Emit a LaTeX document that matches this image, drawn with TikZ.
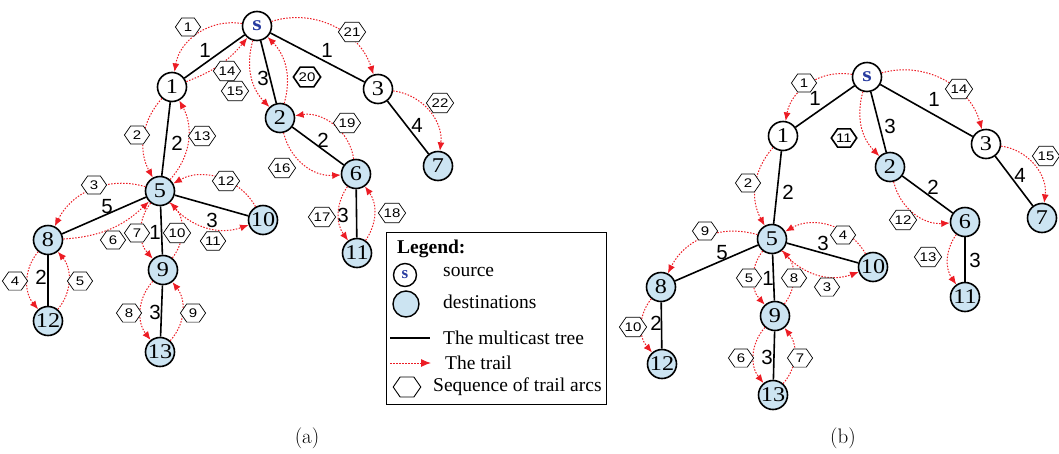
\documentclass[tikz,border=0pt]{standalone}
\usepackage{fontspec}
\usetikzlibrary{arrows.meta,shapes.geometric}
\newfontfamily\tnr{Liberation Serif}
\newfontfamily\tnrw[FakeStretch=1.15]{Liberation Serif}
\newfontfamily\arl{Liberation Sans}
\definecolor{destc}{RGB}{204,228,242}
\definecolor{trailc}{RGB}{236,28,36}
\definecolor{sblue}{RGB}{40,60,160}
\begin{document}
\begin{tikzpicture}[x=1pt,y=-1pt,
  vtx/.style={circle,draw=black,line width=1.6pt,minimum size=29pt,inner sep=0pt,fill=white,font=\tnrw\fontsize{21}{21}\selectfont},
  dst/.style={vtx,fill=destc},
  src/.style={vtx,font=\tnrw\bfseries\fontsize{21}{21}\selectfont,text=sblue},
  tree/.style={line width=1.6pt,black},
  wt/.style={font=\arl\fontsize{20.5}{20.5}\selectfont,inner sep=0pt},
  arc/.style={trailc,line width=1pt,dash pattern=on 1.5pt off 1.5pt,-{Latex[length=8.5pt,width=7pt]}},
  hex/.style={regular polygon,regular polygon sides=6,draw=black,fill=white,line width=0.7pt,minimum size=21pt,inner sep=0pt,xscale=1.2,font=\arl\fontsize{12.5}{12.5}\selectfont},
  bhex/.style={hex,line width=1.6pt},
  lgt/.style={anchor=west,inner sep=0pt,font=\tnr\fontsize{19.5}{19.5}\selectfont},
  captxt/.style={inner sep=0pt,font=\fontsize{21}{21}\selectfont},
]
\useasboundingbox (0,0) rectangle (1059,453);

% ================= (a) =================
\node[src] (as) at (257,26) {s};
\node[vtx] (a1) at (172,87) {1};
\node[dst] (a2) at (280,118) {2};
\node[vtx] (a3) at (378,89) {3};
\node[dst] (a7) at (438,166) {7};
\node[dst] (a6) at (356,174) {6};
\node[dst] (a11) at (357,253) {11};
\node[dst] (a5) at (160,191) {5};
\node[dst] (a8) at (48,240) {8};
\node[dst] (a12) at (48,321) {12};
\node[dst] (a9) at (163,270) {9};
\node[dst] (a13) at (160,352) {13};
\node[dst] (a10) at (263,220) {10};

\draw[tree] (as) -- (a1);
\draw[tree] (as) -- (a2);
\draw[tree] (as) -- (a3);
\draw[tree] (a1) -- (a5);
\draw[tree] (a2) -- (a6);
\draw[tree] (a3) -- (a7);
\draw[tree] (a5) -- (a8);
\draw[tree] (a5) -- (a9);
\draw[tree] (a5) -- (a10);
\draw[tree] (a8) -- (a12);
\draw[tree] (a9) -- (a13);
\draw[tree] (a6) -- (a11);

\node[wt] (aw1) at (205,50) {1};
\node[wt] (aw2) at (263,78) {3};
\node[wt] (aw3) at (327,50) {1};
\node[wt] (aw4) at (177,143) {2};
\node[wt] (aw5) at (323,140) {2};
\node[wt] (aw6) at (417,125) {4};
\node[wt] (aw7) at (107,207) {5};
\node[wt] (aw8) at (155,232) {1};
\node[wt] (aw9) at (212,220) {3};
\node[wt] (aw10) at (41,277) {2};
\node[wt] (aw11) at (155,312) {3};
\node[wt] (aw12) at (343,215) {3};

\draw[arc] (as) to[bend right=45] (a1);
\draw[arc] (a1) to[bend right=35] (a5);
\draw[arc] (a5) to[bend right=40] (a8);
\draw[arc] (a8) to[bend right=40] (a12);
\draw[arc] (a12) to[bend right=40] (a8);
\draw[arc] (a8) to[bend right=20] (a5);
\draw[arc] (a5) to[bend right=40] (a9);
\draw[arc] (a9) to[bend right=40] (a13);
\draw[arc] (a13) to[bend right=40] (a9);
\draw[arc] (a9) to[bend right=40] (a5);
\draw[arc] (a5) to[bend right=35] (a10);
\draw[arc] (a10) to[bend right=45] (a5);
\draw[arc] (a5) to[bend right=35] (a1);
\draw[arc] (a1) to[bend right=15] (as);
\draw[arc] (as) to[bend right=30] (a2);
\draw[arc] (a2) to[bend right=40] (a6);
\draw[arc] (a6) to[bend right=35] (a11);
\draw[arc] (a11) to[bend right=35] (a6);
\draw[arc] (a6) to[bend right=45] (a2);
\draw[arc] (a2) to[bend right=30] (as);
\draw[arc] (as) to[bend left=45] (a3);
\draw[arc] (a3) to[bend left=45] (a7);

\node[hex] (ah1) at (188,27) {1};
\node[hex] (ah2) at (137,135) {2};
\node[hex] (ah3) at (94,185) {3};
\node[hex] (ah4) at (15,281) {4};
\node[hex] (ah5) at (80,281) {5};
\node[hex] (ah6) at (113,240) {6};
\node[hex] (ah7) at (137,233) {7};
\node[hex] (ah8) at (129,313) {8};
\node[hex] (ah9) at (193,313) {9};
\node[hex] (ah10) at (177,233) {10};
\node[hex] (ah11) at (213,241) {11};
\node[hex] (ah12) at (226,181) {12};
\node[hex] (ah13) at (202,136) {13};
\node[hex] (ah14) at (227,71) {14};
\node[hex] (ah15) at (235,91) {15};
\node[hex] (ah16) at (282,168) {16};
\node[hex] (ah17) at (322,217) {17};
\node[hex] (ah18) at (392,213) {18};
\node[hex] (ah19) at (347,123) {19};
\node[bhex] (ah20) at (307,77) {20};
\node[hex] (ah21) at (352,32) {21};
\node[hex] (ah22) at (440,103) {22};

% legend
\draw[line width=0.8pt] (386,232) rectangle (606,404);
\node[lgt,font=\tnr\bfseries\fontsize{19.5}{19.5}\selectfont] (lg0) at (397,249) {Legend:};
\node[src,minimum size=23pt,line width=1.4pt,font=\tnr\bfseries\fontsize{17}{17}\selectfont] (lgs) at (405,275) {s};
\node[lgt] (lg1) at (443,272) {source};
\node[dst,minimum size=26pt,line width=1.4pt] (lgd) at (406,304) {};
\node[lgt] (lg2) at (443,302) {destinations};
\coordinate (lta) at (390,338);
\coordinate (ltb) at (430,338);
\draw[tree] (lta) -- (ltb);
\node[lgt] (lg3) at (443,338) {The multicast tree};
\coordinate (lra) at (390,363);
\coordinate (lrb) at (431,363);
\draw[arc,-{Latex[length=10pt,width=8pt]}] (lra) -- (lrb);
\node[lgt] (lg4) at (445,363) {The trail};
\node[hex,minimum size=23pt,line width=0.9pt] (lgh) at (407,387) {};
\node[lgt] (lg5) at (433,387) {Sequence of trail arcs};

\node[captxt] (capa) at (307,438) {(a)};

% ================= (b) =================
\node[src] (bs) at (867,77) {s};
\node[vtx] (b1) at (783,136) {1};
\node[dst] (b2) at (890,167) {2};
\node[vtx] (b3) at (986,144) {3};
\node[dst] (b6) at (965,222) {6};
\node[dst] (b7) at (1042,218) {7};
\node[dst] (b11) at (965,297) {11};
\node[dst] (b5) at (772,239) {5};
\node[dst] (b8) at (661,287) {8};
\node[dst] (b12) at (662,364) {12};
\node[dst] (b9) at (775,316) {9};
\node[dst] (b13) at (773,395) {13};
\node[dst] (b10) at (873,267) {10};

\draw[tree] (bs) -- (b1);
\draw[tree] (bs) -- (b2);
\draw[tree] (bs) -- (b3);
\draw[tree] (b1) -- (b5);
\draw[tree] (b2) -- (b6);
\draw[tree] (b3) -- (b7);
\draw[tree] (b5) -- (b8);
\draw[tree] (b5) -- (b9);
\draw[tree] (b5) -- (b10);
\draw[tree] (b8) -- (b12);
\draw[tree] (b9) -- (b13);
\draw[tree] (b6) -- (b11);

\node[wt] (bw1) at (815,98) {1};
\node[wt] (bw2) at (890,126) {3};
\node[wt] (bw3) at (934,99) {1};
\node[wt] (bw4) at (788,192) {2};
\node[wt] (bw5) at (933,187) {2};
\node[wt] (bw6) at (1020,175) {4};
\node[wt] (bw7) at (722,253) {5};
\node[wt] (bw8) at (768,278) {1};
\node[wt] (bw9) at (823,243) {3};
\node[wt] (bw10) at (656,323) {2};
\node[wt] (bw11) at (767,357) {3};
\node[wt] (bw12) at (975,260) {3};

\draw[arc] (bs) to[bend right=45] (b1);
\draw[arc] (b1) to[bend right=35] (b5);
\draw[arc] (b5) to[bend right=35] (b10);
\draw[arc] (b10) to[bend right=45] (b5);
\draw[arc] (b5) to[bend right=40] (b9);
\draw[arc] (b9) to[bend right=40] (b13);
\draw[arc] (b13) to[bend right=40] (b9);
\draw[arc] (b9) to[bend right=40] (b5);
\draw[arc] (b5) to[bend right=40] (b8);
\draw[arc] (b8) to[bend right=40] (b12);
\draw[arc] (bs) to[bend right=30] (b2);
\draw[arc] (b2) to[bend right=40] (b6);
\draw[arc] (b6) to[bend right=35] (b11);
\draw[arc] (bs) to[bend left=45] (b3);
\draw[arc] (b3) to[bend left=45] (b7);

\node[hex] (bh1) at (804,83) {1};
\node[hex] (bh2) at (748,183) {2};
\node[hex] (bh3) at (827,287) {3};
\node[hex] (bh4) at (843,235) {4};
\node[hex] (bh5) at (749,278) {5};
\node[hex] (bh6) at (741,358) {6};
\node[hex] (bh7) at (800,358) {7};
\node[hex] (bh8) at (794,278) {8};
\node[hex] (bh9) at (705,231) {9};
\node[hex] (bh10) at (633,327) {10};
\node[bhex] (bh11) at (844,138) {11};
\node[hex] (bh12) at (903,220) {12};
\node[hex] (bh13) at (928,257) {13};
\node[hex] (bh14) at (959,89) {14};
\node[hex] (bh15) at (1046,156) {15};

\node[captxt] (capb) at (843,438) {(b)};
\end{tikzpicture}
\end{document}
